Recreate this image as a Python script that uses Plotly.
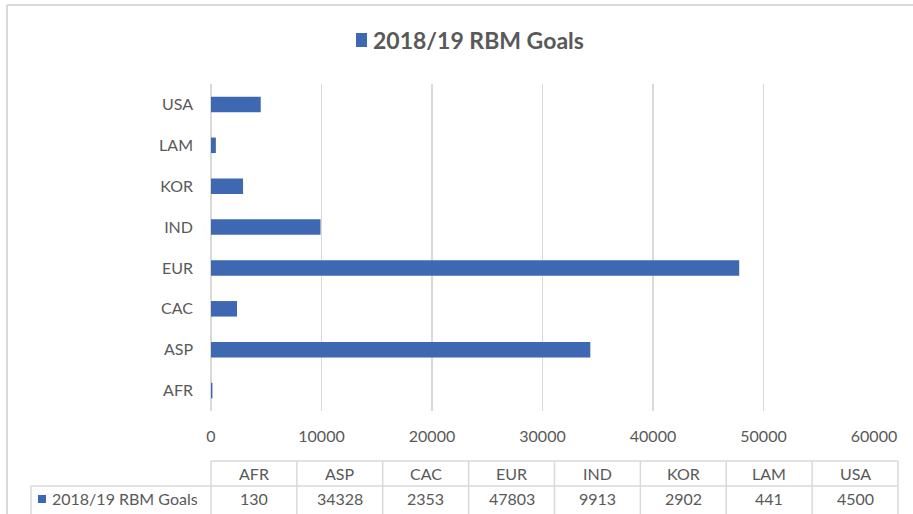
import plotly.graph_objects as go

categories = ["AFR", "ASP", "CAC", "EUR", "IND", "KOR", "LAM", "USA"]
values = [130, 34328, 2353, 47803, 9913, 2902, 441, 4500]
series_name = "2018/19 RBM Goals"
x_ticks = [0, 10000, 20000, 30000, 40000, 50000, 60000]

W, H = 913, 514
L, R, T, B = 211, 874, 84, 411  # plot area in pixels
BLUE = "#3F68B2"
GRID = "#D9D9D9"
TXT = "#595959"
FONT = "Lato"


def px(x):
    return (x - L) / (R - L)


def py(y):
    return (B - y) / (B - T)


fig = go.Figure()
fig.add_trace(go.Bar(
    y=categories, x=values, orientation="h", name=series_name,
    marker=dict(color=BLUE, line=dict(width=0)), width=0.38,
    showlegend=False,
))

shapes = []
annotations = []

# chart frame (top and left edges visible)
shapes.append(dict(type="line", xref="paper", yref="paper", x0=px(7), x1=px(W + 5), y0=py(5), y1=py(5),
                   line=dict(color=GRID, width=2)))
shapes.append(dict(type="line", xref="paper", yref="paper", x0=px(7), x1=px(7), y0=py(5), y1=py(H + 5),
                   line=dict(color=GRID, width=2)))

# title with legend key
shapes.append(dict(type="rect", xref="paper", yref="paper", x0=px(356), x1=px(367), y0=py(47), y1=py(33),
                   fillcolor=BLUE, line=dict(width=0)))
annotations.append(dict(xref="paper", yref="paper", x=px(371), y=py(40), xanchor="left", yanchor="middle",
                        text="<b>" + series_name + "</b>", showarrow=False,
                        font=dict(family=FONT, size=23, color=TXT)))

# data table
t_left, t_right = 211, 898
row_top, row_mid, row_bot = 461, 486, 520
lab_left = 31
n = len(categories)
cw = (t_right - t_left) / n
line_style = dict(color=GRID, width=1.5)
shapes.append(dict(type="line", xref="paper", yref="paper", x0=px(t_left), x1=px(t_right),
                   y0=py(row_top), y1=py(row_top), line=line_style))
shapes.append(dict(type="line", xref="paper", yref="paper", x0=px(lab_left), x1=px(t_right),
                   y0=py(row_mid), y1=py(row_mid), line=line_style))
for k in range(n + 1):
    xx = t_left + k * cw
    shapes.append(dict(type="line", xref="paper", yref="paper", x0=px(xx), x1=px(xx),
                       y0=py(row_top), y1=py(row_bot), line=line_style))
shapes.append(dict(type="line", xref="paper", yref="paper", x0=px(lab_left), x1=px(lab_left),
                   y0=py(row_mid), y1=py(row_bot), line=line_style))
for k, (c, v) in enumerate(zip(categories, values)):
    cx = t_left + (k + 0.5) * cw
    annotations.append(dict(xref="paper", yref="paper", x=px(cx), y=py(473.5), text=c, showarrow=False,
                            xanchor="center", yanchor="middle", font=dict(family=FONT, size=16, color=TXT)))
    annotations.append(dict(xref="paper", yref="paper", x=px(cx), y=py(499), text=str(v), showarrow=False,
                            xanchor="center", yanchor="middle", font=dict(family=FONT, size=16, color=TXT)))
shapes.append(dict(type="rect", xref="paper", yref="paper", x0=px(38), x1=px(46), y0=py(503), y1=py(495),
                   fillcolor=BLUE, line=dict(width=0)))
annotations.append(dict(xref="paper", yref="paper", x=px(50), y=py(499), text=series_name, showarrow=False,
                        xanchor="left", yanchor="middle", font=dict(family=FONT, size=16, color=TXT)))

fig.update_layout(
    width=W, height=H,
    margin=dict(l=L, r=W - R, t=T, b=H - B),
    paper_bgcolor="white", plot_bgcolor="white",
    font=dict(family=FONT, size=16, color=TXT),
    bargap=0.62,
    shapes=shapes, annotations=annotations,
    xaxis=dict(range=[0, 60000], tickvals=x_ticks, ticktext=[str(t) for t in x_ticks],
               showgrid=True, gridcolor=GRID, gridwidth=1.5, zeroline=True, zerolinecolor=GRID,
               zerolinewidth=1.5, showline=False, ticks="", ticklabelstandoff=14,
               tickfont=dict(family=FONT, size=16, color=TXT), fixedrange=True),
    yaxis=dict(categoryorder="array", categoryarray=categories, range=[-0.5, 7.5],
               showgrid=False, showline=False, ticks="", ticklabelstandoff=17,
               tickfont=dict(family=FONT, size=16, color=TXT), fixedrange=True),
)

fig.write_html("out.html", config={"staticPlot": True},
               post_script="document.body.style.margin='0';document.body.style.overflow='hidden';")
